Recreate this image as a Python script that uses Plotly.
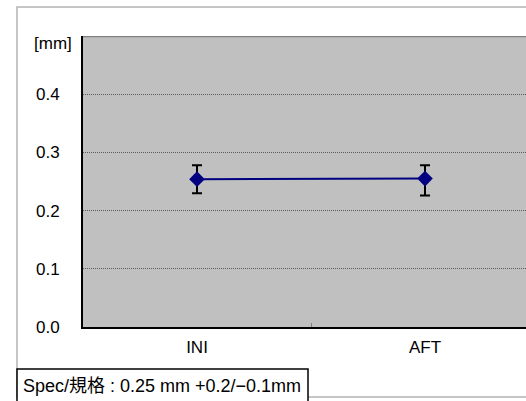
import plotly.graph_objects as go

categories = ["INI", "AFT"]
means = [0.254, 0.255]
err_plus = [0.024, 0.023]
err_minus = [0.024, 0.029]
y_tickvals = [0.0, 0.1, 0.2, 0.3, 0.4]
y_ticktext = ["0.0", "0.1", "0.2", "0.3", "0.4"]
unit_label = "[mm]"
spec_text = "Spec/規格 : 0.25 mm +0.2/−0.1mm"

W, H = 526, 401
L, T, B = 83, 36, 74
plot_w = W - L
plot_h = H - T - B

def px_x(px):
    return (px - L) / plot_w

def px_y(py):
    return (H - B - py) / plot_h

fig = go.Figure()
fig.add_trace(go.Scatter(
    x=categories, y=means,
    mode="lines+markers",
    line=dict(color="#000080", width=2),
    marker=dict(symbol="diamond", size=12, color="#000080"),
    error_y=dict(type="data", symmetric=False, array=err_plus, arrayminus=err_minus,
                 color="black", thickness=2, width=5),
    showlegend=False,
    hoverinfo="skip",
))

font_main = "Liberation Sans, Arial, Noto Sans CJK JP, sans-serif"

fig.update_layout(
    width=W, height=H,
    margin=dict(l=L, r=0, t=T, b=B, pad=0),
    paper_bgcolor="white",
    plot_bgcolor="#C0C0C0",
    font=dict(family=font_main, size=17, color="black"),
    hovermode=False,
    xaxis=dict(
        type="category",
        range=[-0.5, -0.5 + plot_w / 228],
        showgrid=False,
        showline=True, linecolor="black", linewidth=2,
        tickson="boundaries", ticks="inside", ticklen=4, tickcolor="#808080", tickwidth=1,
        ticklabelstandoff=4,
        zeroline=False,
        fixedrange=True,
    ),
    yaxis=dict(
        range=[0, 0.5],
        tickvals=y_tickvals, ticktext=y_ticktext,
        showgrid=True, gridcolor="#5a5a5a", griddash="1px,1px", gridwidth=1,
        showline=True, linecolor="black", linewidth=2,
        ticks="", ticklabelstandoff=18,
        zeroline=False,
        fixedrange=True,
    ),
    shapes=[
        # outer chart border
        dict(type="rect", xref="paper", yref="paper",
             x0=px_x(17), x1=px_x(560), y0=px_y(397), y1=px_y(7),
             line=dict(color="#B4B4B4", width=1.5), fillcolor="rgba(0,0,0,0)", layer="below"),
        # top plot border
        dict(type="line", xref="paper", yref="y", x0=0, x1=1.05, y0=0.5, y1=0.5,
             line=dict(color="#808080", width=2.5)),
        # spec box
        dict(type="rect", xref="paper", yref="paper",
             x0=px_x(17), x1=px_x(308), y0=px_y(410), y1=px_y(369),
             line=dict(color="black", width=1.5), fillcolor="white"),
    ],
    annotations=[
        dict(text=unit_label, xref="paper", yref="y", x=0, y=0.5,
             xanchor="right", yanchor="middle", xshift=-9, yshift=-7,
             showarrow=False, font=dict(size=17, family=font_main)),
        dict(text=spec_text, xref="paper", yref="paper", x=px_x(21), y=px_y(386),
             xanchor="left", yanchor="middle", showarrow=False,
             font=dict(size=18, family=font_main)),
    ],
)

fig.write_html("out.html", config={"displayModeBar": False, "staticPlot": True},
               post_script="document.body.style.margin='0';document.body.style.overflow='hidden';")
